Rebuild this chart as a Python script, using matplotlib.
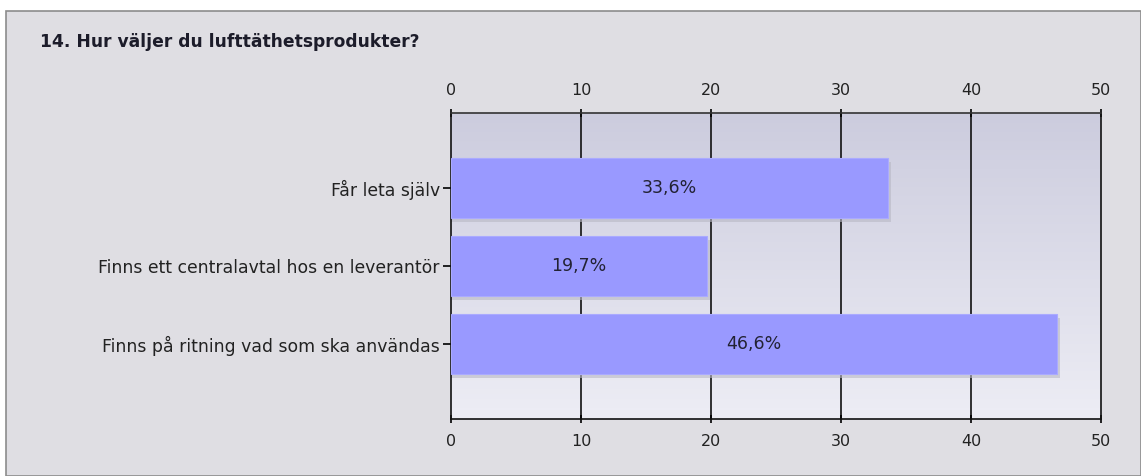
import matplotlib
matplotlib.use('Agg')
import matplotlib.pyplot as plt
import numpy as np
from matplotlib.patches import Rectangle

categories = ['Får leta själv', 'Finns ett centralavtal hos en leverantör',
              'Finns på ritning vad som ska användas']
values = [33.6, 19.7, 46.6]
value_labels = ['33,6%', '19,7%', '46,6%']
ticks = [0, 10, 20, 30, 40, 50]

W, H = 1141, 476
fig = plt.figure(figsize=(W / 100, H / 100), dpi=100)
fig.patch.set_facecolor('white')

# outer panel
fig.patches.append(Rectangle((6 / W, 0), (W - 6) / W, (H - 11) / H, transform=fig.transFigure,
                             facecolor='#dfdee3', edgecolor='#8c8c8c', linewidth=1.2, zorder=-5))

fig.text(40 / W, 1 - 42 / H, '14. Hur väljer du lufttäthetsprodukter?', fontsize=12.3,
         fontweight='bold', color='#1c1c2a', va='center', ha='left')

left, right, top, bottom = 451, 1101, 113, 419
ax = fig.add_axes([left / W, 1 - bottom / H, (right - left) / W, (bottom - top) / H])
ax.set_facecolor('none')
ax.set_zorder(2)

y = np.arange(len(categories))
ax.set_xlim(0, 50)
ax.set_ylim(2.96, -0.96)

# gradient background
grad = np.linspace(0, 1, 256).reshape(-1, 1)
c_top = np.array([0.80, 0.80, 0.87])
c_bot = np.array([0.93, 0.93, 0.96])
img = c_top + (c_bot - c_top) * grad[:, :, None]
ax.imshow(img, extent=[0, 50, 2.96, -0.96], aspect='auto', zorder=0)

# grid
for t in ticks[1:-1]:
    ax.axvline(t, color='#111111', linewidth=1.2, zorder=1)

bh = 0.76
# shadows
ax.barh(y + 0.05, [v + 0.25 for v in values], height=bh, color='#b8b8c4', alpha=0.6,
        zorder=2, linewidth=0)
ax.barh(y, values, height=bh, color='#9999ff', edgecolor='#aaaaff', linewidth=0.8, zorder=3)
for yi, v, lab in zip(y, values, value_labels):
    ax.text(v / 2, yi, lab, ha='center', va='center', fontsize=12.5, color='#222233', zorder=4)

ax.set_xticks(ticks)
ax.set_yticks(y)
ax.set_yticklabels(categories, fontsize=12.4, color='#222222')
ax.tick_params(axis='x', top=True, labeltop=True, bottom=True, labelbottom=True,
               length=6, direction='inout', width=1.2, labelsize=11.5, labelcolor='#222222', pad=8)
ax.tick_params(axis='y', length=6, width=1.2, direction='out', pad=2)
for s in ax.spines.values():
    s.set_color('#111111')
    s.set_linewidth(1.2)
ax.spines['top'].set_color('#333333')

fig.savefig('out.png', dpi=100)
